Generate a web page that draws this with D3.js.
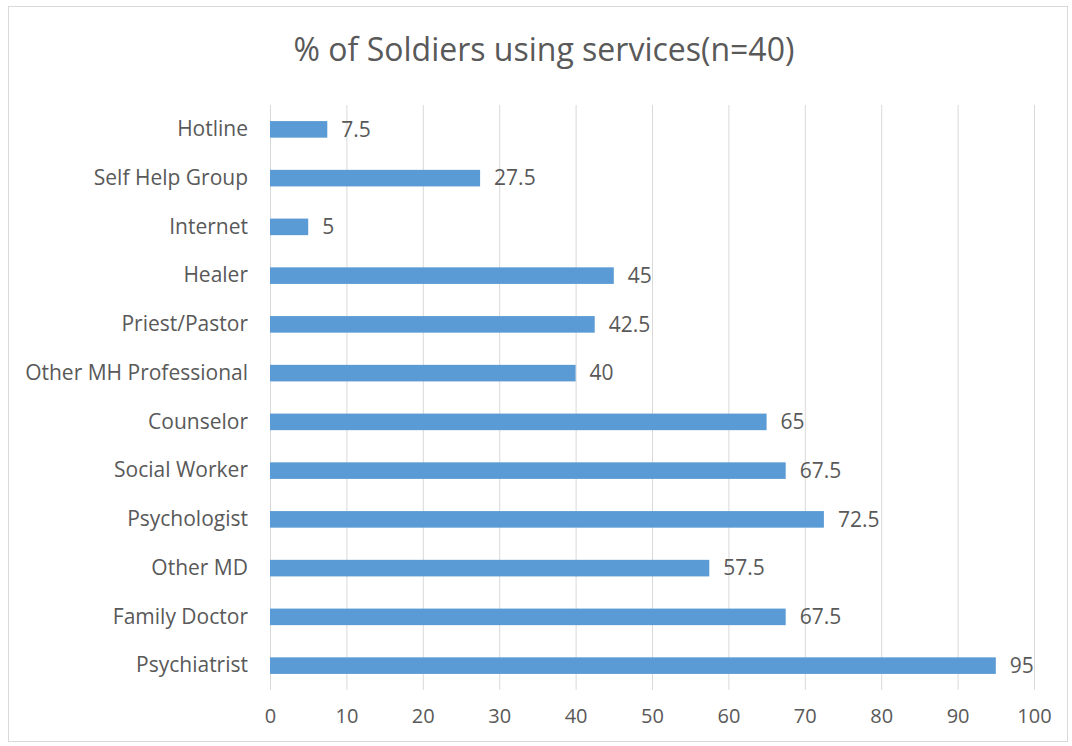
<!DOCTYPE html>
<html>
<head>
<meta charset="utf-8">
<script src="https://cdn.jsdelivr.net/npm/d3@7"></script>
<style>
  body { margin: 0; background: #fff; }
  text { font-family: "Open Sans", sans-serif; fill: #595959; }
</style>
</head>
<body>
<svg id="chart" width="1072" height="746"></svg>
<script>
const categories = ["Hotline", "Self Help Group", "Internet", "Healer", "Priest/Pastor",
  "Other MH Professional", "Counselor", "Social Worker", "Psychologist", "Other MD",
  "Family Doctor", "Psychiatrist"];
const values = [7.5, 27.5, 5, 45, 42.5, 40, 65, 67.5, 72.5, 57.5, 67.5, 95];
const xTicks = [0, 10, 20, 30, 40, 50, 60, 70, 80, 90, 100];
const title = "% of Soldiers using services(n=40)";

const svg = d3.select("#chart");
const margin = { top: 105, right: 38, bottom: 56, left: 270 };
const width = 1072 - margin.left - margin.right;
const height = 746 - margin.top - margin.bottom;

svg.append("rect")
  .attr("x", 8.5).attr("y", 6.5)
  .attr("width", 1059).attr("height", 735)
  .attr("fill", "#fff")
  .attr("stroke", "#d9d9d9");

svg.append("text")
  .attr("x", 544).attr("y", 61)
  .attr("text-anchor", "middle")
  .style("font-size", "32px")
  .text(title);

const x = d3.scaleLinear().domain([0, 100]).range([0, width]);
const y = d3.scaleBand().domain(categories).range([0, height]).paddingInner(0.66).paddingOuter(0.33);

const g = svg.append("g").attr("transform", `translate(${margin.left},${margin.top})`);

g.selectAll(".grid")
  .data(xTicks)
  .enter().append("line")
  .attr("class", "grid")
  .attr("x1", d => x(d) + 0.5).attr("x2", d => x(d) + 0.5)
  .attr("y1", 0).attr("y2", height)
  .attr("stroke", "#d9d9d9");

const xAxis = g.append("g")
  .attr("transform", `translate(0,${height})`)
  .call(d3.axisBottom(x).tickValues(xTicks).tickSize(0).tickPadding(19));
xAxis.select(".domain").remove();
xAxis.selectAll("text").style("font-size", "20px");

const yAxis = g.append("g")
  .call(d3.axisLeft(y).tickSize(0).tickPadding(22));
yAxis.select(".domain").remove();
yAxis.selectAll("text").style("font-size", "21px");

g.selectAll(".bar")
  .data(categories)
  .enter().append("rect")
  .attr("class", "bar")
  .attr("x", x(0))
  .attr("y", d => y(d))
  .attr("width", (d, i) => x(values[i]) - x(0))
  .attr("height", y.bandwidth())
  .attr("fill", "#5b9bd5");

g.selectAll(".label")
  .data(categories)
  .enter().append("text")
  .attr("class", "label")
  .attr("x", (d, i) => x(values[i]) + 14)
  .attr("y", d => y(d) + y.bandwidth() / 2)
  .attr("dy", "0.35em")
  .style("font-size", "21px")
  .text((d, i) => values[i]);
</script>
</body>
</html>
